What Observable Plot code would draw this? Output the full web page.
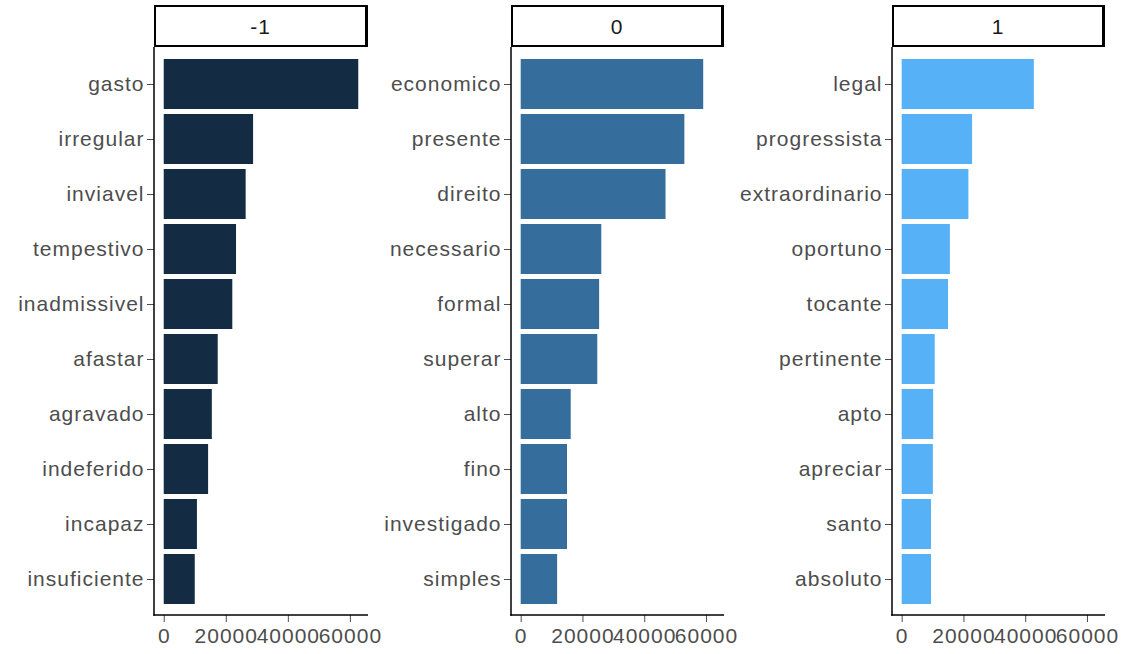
<!DOCTYPE html>
<html><head><meta charset="utf-8">
<script src="https://cdn.jsdelivr.net/npm/d3@7"></script>
<script src="https://cdn.jsdelivr.net/npm/@observablehq/plot@0.6"></script>
<style>
body{margin:0;background:#fff;font-family:"Liberation Sans",Arial,sans-serif;}
#chart{position:relative;width:1124px;height:654px;overflow:hidden;background:#fff;}
.panel{position:absolute;top:0;overflow:visible;}
.strip{position:absolute;top:5px;height:42px;box-sizing:border-box;border:2px solid #000;border-right-width:3px;background:#fff;text-align:center;line-height:40px;font-size:21px;letter-spacing:1px;color:#1a1a1a;}
</style></head><body><div id="chart"></div>
<script>
// Facet labels (sentiment value)
const facetLabels = ["-1", "0", "1"];
const facetValues = [-1, 0, 1];

// Facet -1
const wordsNeg = ["gasto","irregular","inviavel","tempestivo","inadmissivel","afastar","agravado","indeferido","incapaz","insuficiente"];
const countsNeg = [62700, 28800, 26400, 23300, 22100, 17400, 15500, 14300, 10700, 10000];

// Facet 0
const wordsZero = ["economico","presente","direito","necessario","formal","superar","alto","fino","investigado","simples"];
const countsZero = [59100, 53000, 46900, 26100, 25400, 24800, 16200, 15000, 15000, 11800];

// Facet 1
const wordsPos = ["legal","progressista","extraordinario","oportuno","tocante","pertinente","apto","apreciar","santo","absoluto"];
const countsPos = [42800, 22800, 21600, 15600, 15000, 10700, 10200, 10100, 9500, 9500];

// X tick values
const xTicks = [0, 20000, 40000, 60000];

const groups = [
  {label: facetLabels[0], s: facetValues[0], words: wordsNeg, counts: countsNeg},
  {label: facetLabels[1], s: facetValues[1], words: wordsZero, counts: countsZero},
  {label: facetLabels[2], s: facetValues[2], words: wordsPos, counts: countsPos}
];

const layout = [
  {left: 0,   width: 375, marginLeft: 154, marginRight: 7},
  {left: 375, width: 357, marginLeft: 136, marginRight: 8},
  {left: 732, width: 392, marginLeft: 160, marginRight: 19}
];

const maxVal = d3.max(groups.flatMap(g => g.counts));
const xDomain = [-0.05 * maxVal, 1.05 * maxVal];
const H = 654, MT = 47, MB = 39;

const chart = document.getElementById("chart");

groups.forEach((g, i) => {
  const L = layout[i];
  const data = g.words.map((w, j) => ({word: w, n: g.counts[j], sentiment: g.s}));
  const axisLines = (index, scales, values, dims) => {
    const grp = d3.create("svg:g");
    const x0 = dims.marginLeft, y1 = dims.height - dims.marginBottom;
    grp.append("line").attr("x1", x0).attr("x2", x0).attr("y1", dims.marginTop).attr("y2", y1 + 0.75)
      .attr("stroke", "#000").attr("stroke-width", 1.5);
    grp.append("line").attr("x1", x0 - 0.75).attr("x2", dims.width - dims.marginRight).attr("y1", y1).attr("y2", y1)
      .attr("stroke", "#000").attr("stroke-width", 1.5);
    return grp.node();
  };
  const svg = Plot.plot({
    width: L.width,
    height: H,
    marginLeft: L.marginLeft,
    marginRight: L.marginRight,
    marginTop: MT,
    marginBottom: MB,
    style: {fontSize: "21px", fontFamily: "'Liberation Sans', Arial, sans-serif", color: "#4d4d4d", background: "none", overflow: "visible"},
    x: {domain: xDomain, label: null},
    y: {type: "band", domain: g.words, paddingInner: 0.1, paddingOuter: 0.17, label: null},
    color: {type: "linear", domain: [-1, 1], range: ["#132B43", "#56B1F7"], interpolate: "rgb"},
    marks: [
      Plot.barX(data, {x: "n", y: "word", fill: "sentiment"}),
      Plot.axisY({tickSize: 7, tickPadding: 3, fontSize: 21, label: null}),
      Plot.axisX({ticks: xTicks, tickFormat: d3.format("d"), tickSize: 7, tickPadding: 6, fontSize: 21, label: null}),
      axisLines
    ]
  });
  svg.classList.add("panel");
  svg.style.left = L.left + "px";
  svg.style.letterSpacing = "1px";
  svg.style.overflow = "visible";
  chart.appendChild(svg);

  const strip = document.createElement("div");
  strip.className = "strip";
  strip.style.left = (L.left + L.marginLeft) + "px";
  strip.style.width = (L.width - L.marginLeft - L.marginRight) + "px";
  strip.textContent = g.label;
  chart.appendChild(strip);
});
</script>
</body></html>
